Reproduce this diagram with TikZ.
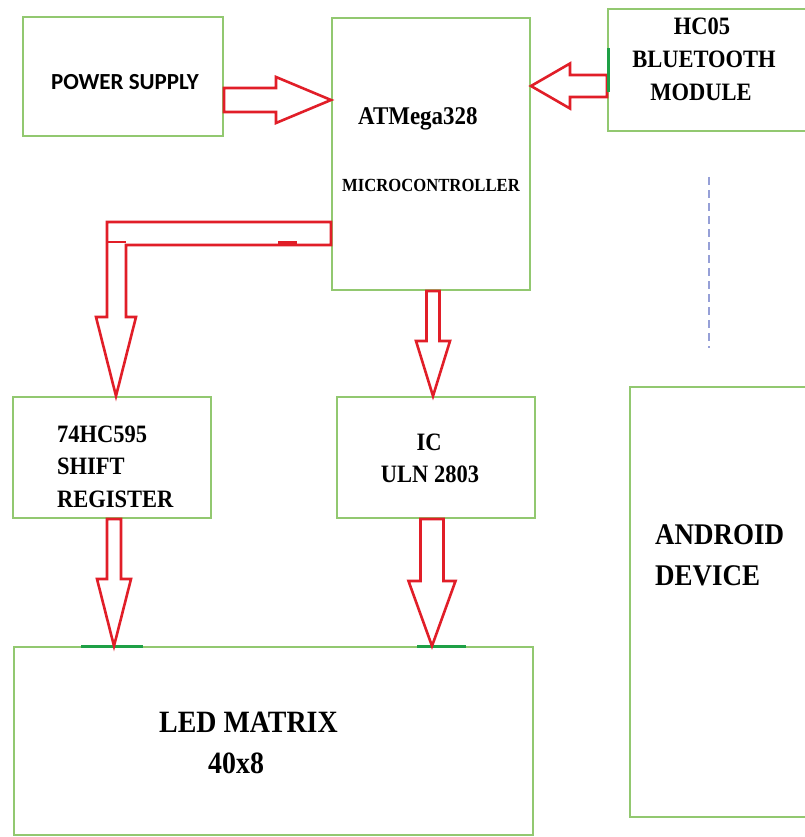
\documentclass[tikz,border=0pt]{standalone}
\usepackage{fontspec}
\setmainfont{Liberation Serif}
\newfontfamily\tnrfont[FakeStretch=0.9]{Liberation Serif}
\newfontfamily\carlitofont{Carlito}
\usetikzlibrary{calc}
\definecolor{boxgreen}{RGB}{146,200,112}
\definecolor{markgreen}{RGB}{30,160,70}
\definecolor{arrowred}{RGB}{225,30,40}
\definecolor{dashblue}{RGB}{150,160,215}
\tikzset{
  box/.style={draw=boxgreen, line width=2pt, inner sep=0pt, fill=none},
  redline/.style={draw=arrowred, line width=2.6pt, line join=miter},
  lbl/.style={inner sep=0pt, anchor=base west, font=\tnrfont\bfseries\fontsize{25}{30}\selectfont, text=black},
  lblc/.style={lbl, anchor=base},
  gmark/.style={draw=markgreen, line width=3pt},
}
\newcommand\blockarrow[5]{%
  \coordinate (ba-h) at ($(#2)!#5!(#1)$);
  \draw[redline] ($(#1)!#3!90:(#2)$) -- ($(ba-h)!#3!-90:(#1)$) -- ($(ba-h)!#4!-90:(#1)$) -- (#2)
     -- ($(ba-h)!#4!90:(#1)$) -- ($(ba-h)!#3!90:(#1)$) -- ($(#1)!#3!-90:(#2)$) -- cycle;
}
\begin{document}
\begin{tikzpicture}[x=1pt,y=-1pt]
\useasboundingbox[fill=white] (0,0) rectangle (804,837);
% boxes
\node[box, minimum width=200pt, minimum height=119pt] (ps) at (123,76.5) {};
\node[box, minimum width=198pt, minimum height=272pt] (mc) at (431,154) {};
\node[box, minimum width=198pt, minimum height=122pt] (bt) at (707,70) {};
\node[box, minimum width=198pt, minimum height=121pt] (sr) at (112,457.5) {};
\node[box, minimum width=198pt, minimum height=121pt] (ic) at (436,457.5) {};
\node[box, minimum width=519pt, minimum height=188pt] (led) at (273.25,741) {};
\node[box, minimum width=176pt, minimum height=430pt] (and) at (718,602) {};
% texts
\node[inner sep=0pt, anchor=base, font=\carlitofont\bfseries\fontsize{23}{28}\selectfont, text=black] (pst) at (125,90) {POWER SUPPLY};
\node[lbl, font=\tnrfont\bfseries\fontsize{25.5}{30}\selectfont] (mct1) at (358,125) {ATMega328};
\node[lbl, font=\tnrfont\bfseries\fontsize{18.5}{22}\selectfont] (mct2) at (342,192) {MICROCONTROLLER};
\node[lblc] (btt1) at (702,35) {HC05};
\node[lblc] (btt2) at (704,68) {BLUETOOTH};
\node[lblc] (btt3) at (701,101) {MODULE};
\node[lbl] (srt1) at (57,442) {74HC595};
\node[lbl] (srt2) at (57,474) {SHIFT};
\node[lbl] (srt3) at (57,507) {REGISTER};
\node[lblc] (ict1) at (429,450) {IC};
\node[lblc] (ict2) at (430,482) {ULN 2803};
\node[lbl, font=\tnrfont\bfseries\fontsize{30}{36}\selectfont] (andt1) at (655,544) {ANDROID};
\node[lbl, font=\tnrfont\bfseries\fontsize{30}{36}\selectfont] (andt2) at (655,585) {DEVICE};
\node[lbl, font=\tnrfont\bfseries\fontsize{31}{37}\selectfont] (ledt1) at (159,732) {LED MATRIX};
\node[lbl, font=\tnrfont\bfseries\fontsize{31}{37}\selectfont] (ledt2) at (208,773) {40x8};
% arrow end points
\coordinate (pa-s) at (ps.east |- 0,100);
\coordinate (pa-t) at (mc.west |- pa-s);
\coordinate (ba-s) at (bt.west |- 0,86);
\coordinate (ba-t) at (mc.east |- ba-s);
\coordinate (mi-s) at (mc.south -| 433,0);
\coordinate (mi-t) at (ic.north -| mi-s);
\coordinate (sl-s) at (sr.south -| 114,0);
\coordinate (sl-t) at (led.north -| sl-s);
\coordinate (il-s) at (ic.south -| 432,0);
\coordinate (il-t) at (led.north -| il-s);
% green marks on the LED matrix
\draw[gmark] (led.north -| 81,0) -- (led.north -| 143,0);
\draw[gmark] (led.north -| 417,0) -- (led.north -| 466,0);
% block arrows
\blockarrow{pa-s}{pa-t}{12pt}{23pt}{55pt}
\blockarrow{ba-s}{ba-t}{11pt}{22.5pt}{39pt}
\blockarrow{mi-s}{mi-t}{6.5pt}{17pt}{55pt}
\blockarrow{sl-s}{sl-t}{7pt}{17pt}{67pt}
\blockarrow{il-s}{il-t}{11.5pt}{23.5pt}{65pt}
% green mark on the bluetooth module
\draw[gmark] ($(bt.west |- 0,48)+(1.5,0)$) -- ($(bt.west |- 0,92)+(1.5,0)$);
% L-shaped arrow from microcontroller to shift register
\coordinate (la-t) at (sr.north -| 116,0);
\draw[redline] (mc.west |- 0,222) -- (107,222) -- (107,317) -- (96,317) -- (la-t)
  -- (136,317) -- (126,317) -- (126,245) -- (mc.west |- 0,245) -- cycle;
\draw[redline, line width=1.6pt] (107,242) -- (126,242);
\draw[redline, line width=4.5pt] (278,243.5) -- (297,243.5);
% dashed link to the android device
\coordinate (dl-a) at (709,177);
\coordinate (dl-b) at (709,348);
\draw[dashblue, line width=1.5pt, dash pattern=on 8pt off 5pt] (dl-a) -- (dl-b);
\end{tikzpicture}
\end{document}
